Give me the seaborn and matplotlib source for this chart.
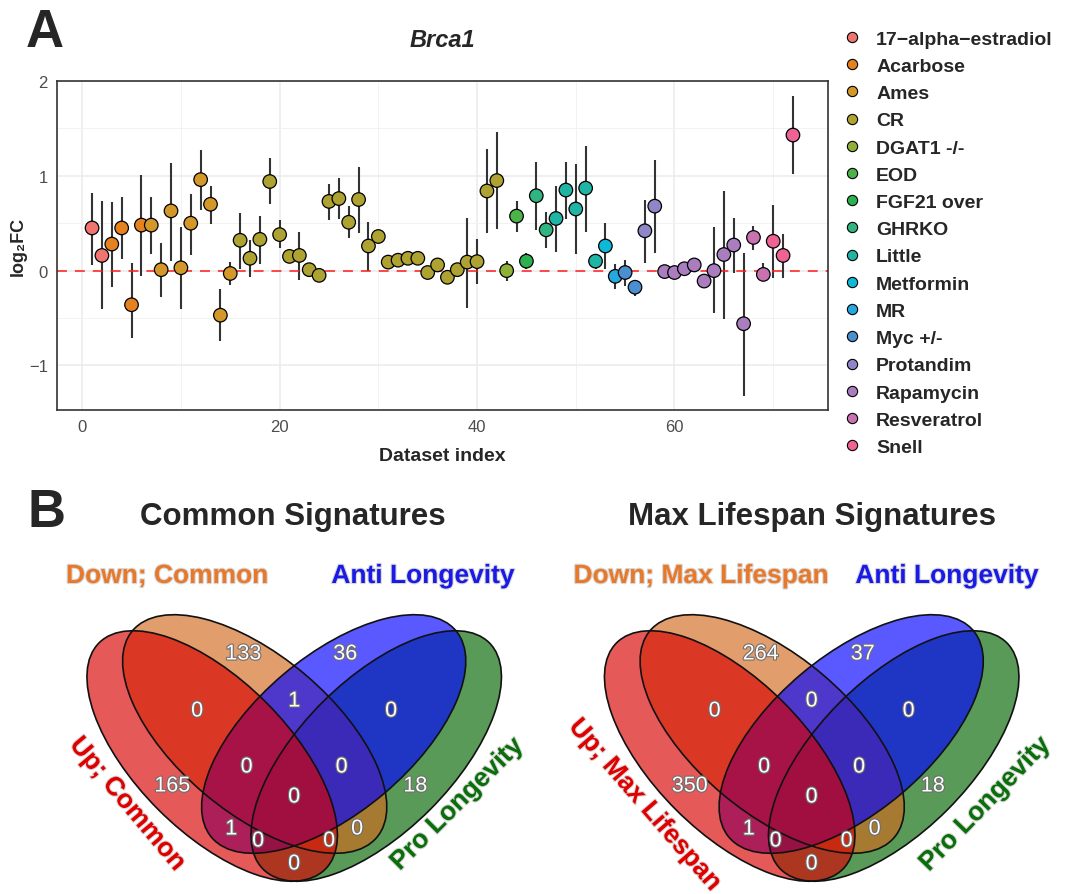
import numpy as np
import pandas as pd
import matplotlib
matplotlib.use("Agg")
import matplotlib.pyplot as plt
import seaborn as sns
from matplotlib.patches import Ellipse
from matplotlib.lines import Line2D
import matplotlib.patheffects as pe

# ---------------- data: panel A ----------------
groups = ["17\u2212alpha\u2212estradiol", "Acarbose", "Ames", "CR", "DGAT1 -/-", "EOD",
          "FGF21 over", "GHRKO", "Little", "Metformin", "MR", "Myc +/-",
          "Protandim", "Rapamycin", "Resveratrol", "Snell"]
group_colors = ["#F07470", "#E5821F", "#D4982A", "#ADA232", "#8FB13A", "#4DB349",
                "#2BB14E", "#2FB482", "#20B4A5", "#0CBAD8", "#25A8E0", "#4C8FD0",
                "#8E86C6", "#A97DBE", "#C873B0", "#EE6294"]
group_sizes = [2, 4, 9, 27, 1, 1, 1, 2, 5, 1, 1, 2, 2, 9, 2, 3]

log2fc = [0.45, 0.16, 0.28, 0.45, -0.36, 0.48, 0.48, 0.01, 0.63, 0.03,
          0.50, 0.96, 0.70, -0.47, -0.03, 0.32, 0.13, 0.33, 0.94, 0.38,
          0.15, 0.16, 0.01, -0.05, 0.73, 0.76, 0.51, 0.75, 0.26, 0.36,
          0.09, 0.11, 0.13, 0.13, -0.02, 0.06, -0.07, 0.01, 0.09, 0.095,
          0.84, 0.95, 0.00, 0.575, 0.10, 0.79, 0.43, 0.55, 0.85, 0.65,
          0.87, 0.10, 0.26, -0.06, -0.02, -0.175, 0.42, 0.68, -0.01, -0.02,
          0.02, 0.06, -0.11, 0.00, 0.17, 0.27, -0.56, 0.35, -0.04, 0.31,
          0.16, 1.43]
ci_low = [0.06, -0.41, -0.17, 0.12, -0.71, -0.06, 0.18, -0.28, 0.10, -0.41,
          0.17, 0.64, 0.49, -0.74, -0.15, 0.02, -0.07, 0.07, 0.70, 0.24,
          0.12, -0.10, -0.02, -0.08, 0.53, 0.54, 0.34, 0.40, 0.00, 0.30,
          0.06, 0.08, 0.10, 0.10, -0.05, 0.03, -0.10, -0.02, -0.39, -0.14,
          0.40, 0.44, -0.11, 0.41, 0.02, 0.43, 0.24, 0.20, 0.54, 0.175,
          0.41, 0.02, 0.02, -0.19, -0.16, -0.27, 0.08, 0.19, -0.04, -0.05,
          -0.01, 0.03, -0.14, -0.45, -0.51, -0.03, -1.32, 0.22, -0.11, -0.08,
          -0.08, 1.02]
ci_high = [0.82, 0.73, 0.72, 0.78, 0.08, 1.01, 0.78, 0.29, 1.14, 0.46,
           0.81, 1.27, 0.89, -0.19, 0.09, 0.61, 0.32, 0.58, 1.19, 0.53,
           0.18, 0.41, 0.04, -0.02, 0.91, 0.98, 0.68, 1.09, 0.51, 0.43,
           0.12, 0.14, 0.16, 0.16, 0.01, 0.09, -0.04, 0.04, 0.55, 0.33,
           1.28, 1.46, 0.10, 0.73, 0.19, 1.15, 0.62, 0.89, 1.15, 1.12,
           1.31, 0.18, 0.50, 0.07, 0.11, -0.12, 0.75, 1.17, 0.02, 0.01,
           0.05, 0.09, -0.08, 0.46, 0.84, 0.56, 0.19, 0.47, 0.08, 0.69,
           0.39, 1.84]

# ---------------- data: panel B ----------------
venn_regions = ["A", "B", "C", "D", "AB", "BC", "CD", "ABC", "BCD", "ABCD",
                "AC", "ACD", "ABD", "BD", "AD"]
common_counts = [165, 133, 36, 18, 0, 1, 0, 0, 0, 0, 1, 0, 0, 0, 0]
maxls_counts = [350, 264, 37, 18, 0, 0, 0, 0, 0, 0, 1, 0, 0, 0, 0]
common_cats = ["Up; Common", "Down; Common", "Anti Longevity", "Pro Longevity"]
maxls_cats = ["Up; Max Lifespan", "Down; Max Lifespan", "Anti Longevity", "Pro Longevity"]
venn_titles = ["Common Signatures", "Max Lifespan Signatures"]

# ---------------- figure ----------------
W, H = 1078, 895
sns.set_style("white")
plt.rcParams["font.family"] = ["Liberation Sans", "DejaVu Sans"]

fig = plt.figure(figsize=(W / 100, H / 100), dpi=100)

point_group = [g for g, n in zip(groups, group_sizes) for _ in range(n)]
df = pd.DataFrame({"idx": np.arange(1, len(log2fc) + 1), "log2fc": log2fc,
                   "lo": ci_low, "hi": ci_high, "group": point_group})
palette = dict(zip(groups, group_colors))

ax = fig.add_axes([57 / W, 1 - 411 / H, (828 - 57) / W, (411 - 82) / H])
ax.set_xlim(-2.55, 75.55)
ax.set_ylim(-1.47, 2.0)
ax.set_xticks([0, 20, 40, 60])
ax.set_yticks([-1, 0, 1, 2])
ax.set_xticks([10, 30, 50, 70], minor=True)
ax.set_yticks([-0.5, 0.5, 1.5], minor=True)
ax.grid(True, which="major", color="#EBEBEB", lw=1.1, zorder=0)
ax.grid(True, which="minor", color="#F2F2F2", lw=0.7, zorder=0)
ax.set_axisbelow(True)
ax.vlines(df["idx"], df["lo"], df["hi"], color="#333333", lw=1.5, zorder=2)
ax.axhline(0, color="#FF1A1A", lw=1.1, ls=(0, (6.5, 5.2)), zorder=2.5)
sns.scatterplot(data=df, x="idx", y="log2fc", hue="group", hue_order=groups,
                palette=palette, s=95, edgecolor="black", linewidth=0.9,
                legend=False, ax=ax, zorder=3)
for s in ax.spines.values():
    s.set_color("#333333")
    s.set_linewidth(1.2)
ax.tick_params(axis="both", which="major", direction="out", length=3.5, width=0.8,
               color="#333333", labelcolor="#4D4D4D", labelsize=12, pad=3)
ax.tick_params(axis="both", which="minor", length=0)
ax.set_xlabel("Dataset index", fontsize=14, fontweight="bold", labelpad=9)
ax.set_ylabel("log\u2082FC", fontsize=13, fontweight="bold")
ax.yaxis.set_label_coords(-30 / (828 - 57), 0.5)
ax.set_title("Brca1", fontsize=17, fontweight="bold", fontstyle="italic", pad=25)

handles = [Line2D([0], [0], marker="o", ls="", markersize=7.4, markerfacecolor=c,
                  markeredgecolor="black", markeredgewidth=0.8) for c in group_colors]
fig.legend(handles, groups, loc="upper left", bbox_to_anchor=(842 / W, 1 - 31 / H),
           frameon=False, prop={"weight": "bold", "size": 14}, handlelength=1.0,
           handletextpad=0.75, labelspacing=0.495, borderaxespad=0, borderpad=0)

fig.text(45 / W, 1 - 33 / H, "A", fontsize=38, fontweight="bold", ha="center", va="center")
fig.text(47 / W, 1 - 513 / H, "B", fontsize=38, fontweight="bold", ha="center", va="center")

# ---------------- venn panels ----------------
axv = fig.add_axes([0, 0, 1, 1], facecolor="none")
axv.set_xlim(0, W)
axv.set_ylim(H, 0)
axv.axis("off")

# ellipse geometry relative to the symmetry axis of each diagram (pixels)
ell_geom = {  # dx, cy, semi-major, semi-minor, angle(deg, down-right positive)
    "A": (-82.0, 757.0, 160.0, 76.0, 45.0),
    "B": (-39.5, 735.0, 160.0, 78.0, 40.25),
    "C": (39.5, 735.0, 160.0, 78.0, -40.25),
    "D": (82.0, 757.0, 160.0, 76.0, -45.0),
}
fill_cols = {"A": "#D90000", "B": "#D2691E", "C": "#0000FF", "D": "#006400"}
draw_order = ["D", "B", "C", "A"]
label_pos = {"A": (-122, 787), "B": (-51, 655), "C": (51, 655), "D": (121, 787),
             "AB": (-97, 712), "BC": (0, 702), "CD": (97, 712), "ABC": (-47.5, 768),
             "BCD": (47.5, 768), "ABCD": (0, 798), "AC": (-63, 830), "ACD": (-36, 842),
             "ABD": (35, 842), "BD": (63, 830), "AD": (0, 865)}
cat_colors = ["#E00000", "#E8782A", "#1A1AE6", "#0A6E0A"]

venns = [
    dict(x0=294.2, counts=common_counts, cats=common_cats, title=venn_titles[0],
         tpos=(293, 517),
         cpos=[(127.5, 805, -50), (167, 577, 0), (423, 577, 0), (457, 805, 45)]),
    dict(x0=811.7, counts=maxls_counts, cats=maxls_cats, title=venn_titles[1],
         tpos=(812, 517),
         cpos=[(645, 806, -49), (701, 577, 0), (947, 577, 0), (985, 805, 46)]),
]

num_fx = [pe.withStroke(linewidth=1.6, foreground="#6E6E6E")]
cat_fx = [pe.withStroke(linewidth=1.6, foreground="#D8D8D8")]
for v in venns:
    x0 = v["x0"]
    for k in draw_order:
        dx, cy, a, b, ang = ell_geom[k]
        axv.add_patch(Ellipse((x0 + dx, cy), 2 * a, 2 * b, angle=ang,
                              facecolor=fill_cols[k], alpha=0.65, lw=0, zorder=1))
    for k in "ABCD":
        dx, cy, a, b, ang = ell_geom[k]
        axv.add_patch(Ellipse((x0 + dx, cy), 2 * a, 2 * b, angle=ang,
                              facecolor="none", edgecolor="#111111", lw=1.2, zorder=2))
    for reg, cnt in zip(venn_regions, v["counts"]):
        dx, y = label_pos[reg]
        axv.text(x0 + dx, y, str(cnt), fontsize=15.5, color="white", ha="center",
                 va="center", path_effects=num_fx, zorder=3)
    for (cx, cy, rot), name, col in zip(v["cpos"], v["cats"], cat_colors):
        axv.text(cx, cy, name, fontsize=19, fontweight="bold", color=col,
                 ha="center", va="center", rotation=rot, rotation_mode="anchor",
                 path_effects=cat_fx, zorder=3)
    axv.text(v["tpos"][0], v["tpos"][1], v["title"], fontsize=22.5, fontweight="bold",
             ha="center", va="center", zorder=3)

fig.savefig("out.png", dpi=100)
